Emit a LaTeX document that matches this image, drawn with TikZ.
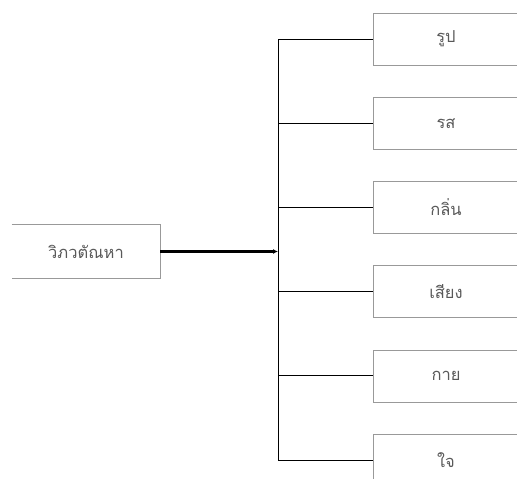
\documentclass[tikz,border=0pt]{standalone}
\usepackage{fontspec}
\newfontfamily\thaifont[Script=Thai]{Loma}
\usetikzlibrary{arrows.meta}
\begin{document}
\begin{tikzpicture}[x=1pt,y=-1pt,
  box/.style={minimum width=146pt,minimum height=52pt,inner sep=0pt,draw=black!40,line width=0.6pt,
    font=\thaifont\fontsize{16.5}{18}\selectfont,text=black!65},
  branch/.style={draw=black,line width=0.8pt}]
\useasboundingbox (0,0) rectangle (517,479);
\clip (0,0) rectangle (517,479);
\node[box,draw=none,minimum width=148pt,minimum height=53pt] (lb) at (86,251.5) {วิภวตัณหา};
\draw[black!40,line width=0.6pt] (lb.north west) -- (lb.north east) -- (lb.south east) -- (lb.south west);
\coordinate (vx) at (278,251.5);
\node[box] (b1) at (446,39) {รูป};
\node[box] (b2) at (446,123.2) {รส};
\node[box] (b3) at (446,207.4) {กลิ่น};
\node[box] (b4) at (446,291.6) {เสียง};
\node[box] (b5) at (446,375.8) {กาย};
\node[box] (b6) at (446,460) {ใจ};
\draw[branch] (b1.west -| vx) -- (b6.west -| vx);
\foreach \b in {b1,b2,b3,b4,b5,b6}{\draw[branch] (\b.west -| vx) -- (\b.west);}
\draw[line width=2.6pt,-{Latex[length=5pt,width=5pt]}] (lb.east) -- (vx);
\end{tikzpicture}
\end{document}
